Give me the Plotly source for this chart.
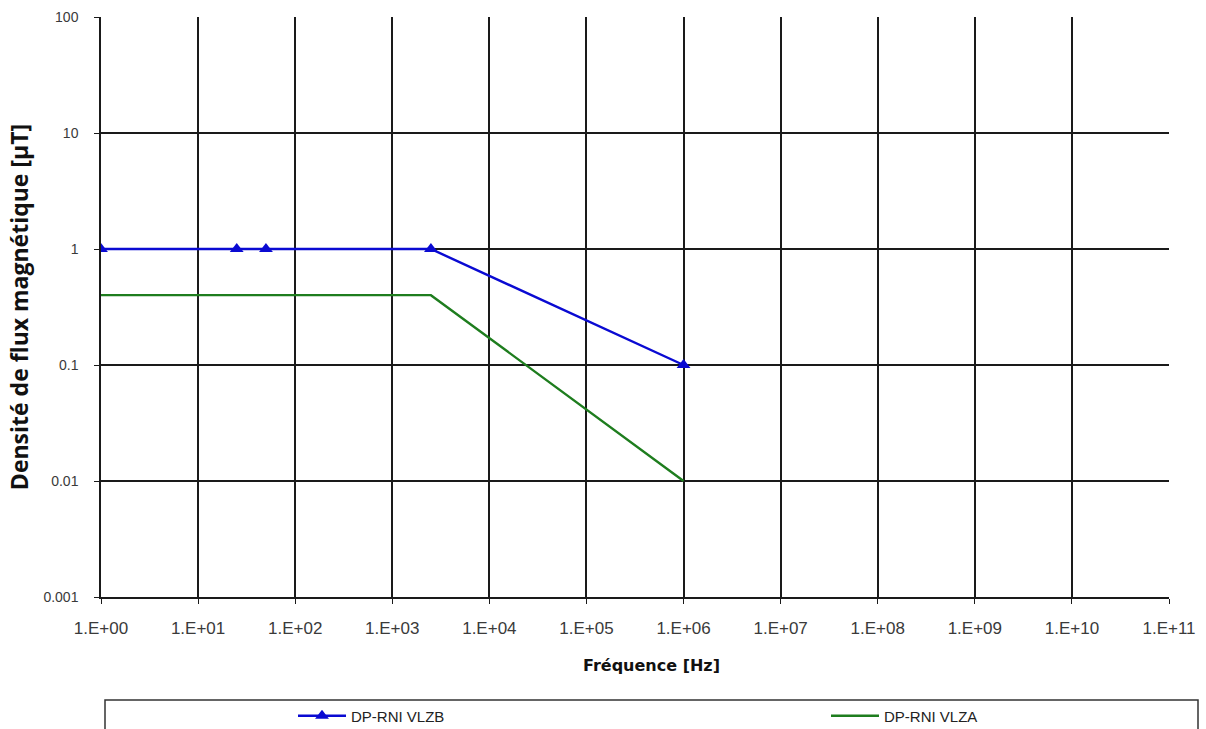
import plotly.graph_objects as go

# Data
vlzb_freq = [1, 25, 50, 2500, 1e6]
vlzb_val = [1, 1, 1, 1, 0.1]
vlza_freq = [1, 2500, 1e6]
vlza_val = [0.4, 0.4, 0.01]

x_tickvals = [1e0, 1e1, 1e2, 1e3, 1e4, 1e5, 1e6, 1e7, 1e8, 1e9, 1e10, 1e11]
x_ticktext = ["1.E+00", "1.E+01", "1.E+02", "1.E+03", "1.E+04", "1.E+05",
              "1.E+06", "1.E+07", "1.E+08", "1.E+09", "1.E+10", "1.E+11"]
y_tickvals = [100, 10, 1, 0.1, 0.01, 0.001]
y_ticktext = ["100", "10", "1", "0.1", "0.01", "0.001"]

fig = go.Figure()
fig.add_trace(go.Scatter(
    x=vlzb_freq, y=vlzb_val, mode="lines+markers", name="DP-RNI VLZB",
    line=dict(color="#0a0ad2", width=2.4),
    marker=dict(symbol="triangle-up", size=12, color="#0a0ad2"),
    legend="legend",
))
fig.add_trace(go.Scatter(
    x=vlza_freq, y=vlza_val, mode="lines", name="DP-RNI VLZA",
    line=dict(color="#1e7d1e", width=2.4),
    legend="legend2",
))

axis_common = dict(
    showgrid=True, gridcolor="#1a1a1a", gridwidth=1.5,
    showline=True, linecolor="#1a1a1a", linewidth=1.5,
    ticks="outside", ticklen=5, tickcolor="#1a1a1a", tickwidth=1.2,
    zeroline=False, mirror=False,
)

legend_font = dict(family="Liberation Sans, Arial", size=15, color="#222222")

fig.update_layout(
    width=1206, height=729,
    margin=dict(l=101, r=37, t=17, b=132, autoexpand=False),
    paper_bgcolor="#ffffff", plot_bgcolor="#ffffff",
    xaxis=dict(type="log", range=[0, 11], tickvals=x_tickvals, ticktext=x_ticktext,
               tickfont=dict(family="Liberation Sans, Arial", size=17, color="#3a3a3a"),
               ticklabelstandoff=10, **axis_common),
    yaxis=dict(type="log", range=[-3, 2], tickvals=y_tickvals, ticktext=y_ticktext,
               tickfont=dict(family="Liberation Sans, Arial", size=14, color="#3a3a3a"),
               title=dict(text="Densité de flux magnétique [µT]",
                          font=dict(family="Open Sans", size=23, color="#111111",
                                    weight="bold"),
                          standoff=8),
               ticklabelstandoff=13, **axis_common),
    legend=dict(x=(293 - 101) / 1068, y=-(716 - 597) / 580, xanchor="left", yanchor="middle",
                orientation="h", itemwidth=48, bgcolor="rgba(0,0,0,0)", font=legend_font),
    legend2=dict(x=(826 - 101) / 1068, y=-(716 - 597) / 580, xanchor="left", yanchor="middle",
                 orientation="h", itemwidth=48, bgcolor="rgba(0,0,0,0)", font=legend_font),
    showlegend=True,
)

fig.add_annotation(
    text="Fréquence [Hz]", xref="paper", yref="paper",
    x=(651 - 101) / 1068, y=-(665 - 597) / 580, xanchor="center", yanchor="middle",
    showarrow=False,
    font=dict(family="DejaVu Sans", size=16, color="#111111", weight="bold"),
)

fig.add_shape(
    type="rect", xref="paper", yref="paper",
    x0=(105 - 101) / 1068, x1=(1198 - 101) / 1068,
    y0=-(700 - 597) / 580, y1=-(760 - 597) / 580,
    line=dict(color="#333333", width=1.5), fillcolor="rgba(0,0,0,0)",
)

fig.write_html("out.html")
